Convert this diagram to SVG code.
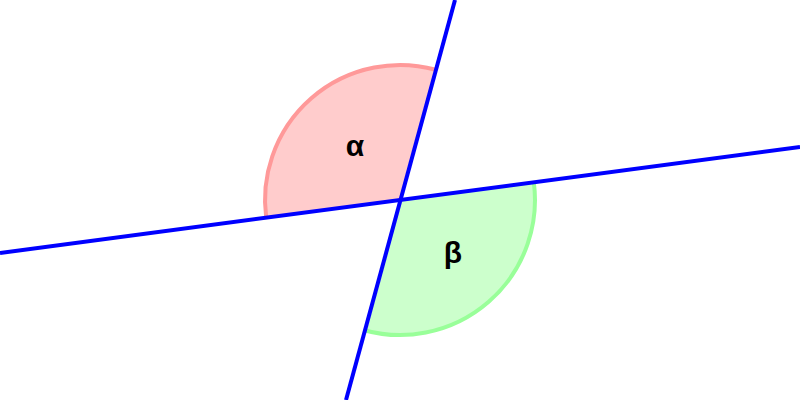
<svg xmlns="http://www.w3.org/2000/svg" width="800" height="400" viewBox="0 0 800 400">
<style>
.lbl{font-family:"Liberation Sans",Arial,sans-serif;font-size:30px;font-weight:bold;fill:#000;text-anchor:middle;dominant-baseline:central}
.ln{stroke:#0000ff;stroke-width:4;fill:none}
</style>
<rect width="800" height="400" fill="#fff"/>
<g id="alpha">
<path d="M400,200 L266.2,217.7 A135,135 0 0 1 435.8,69.8 Z" fill="#ffcccc" stroke="none"/>
<path d="M266.2,217.7 A135,135 0 0 1 435.8,69.8" fill="none" stroke="#ff9999" stroke-width="4"/>
<text class="lbl" x="355" y="145">α</text>
</g>
<g id="beta">
<path d="M400,200 L533.8,182.3 A135,135 0 0 1 364.2,330.2 Z" fill="#ccffcc" stroke="none"/>
<path d="M533.8,182.3 A135,135 0 0 1 364.2,330.2" fill="none" stroke="#99ff99" stroke-width="4"/>
<text class="lbl" x="453" y="252">β</text>
</g>
<g id="lines">
<line class="ln" x1="0" y1="253" x2="800" y2="147"/>
<line class="ln" x1="455" y1="0" x2="346" y2="400"/>
</g>
</svg>
